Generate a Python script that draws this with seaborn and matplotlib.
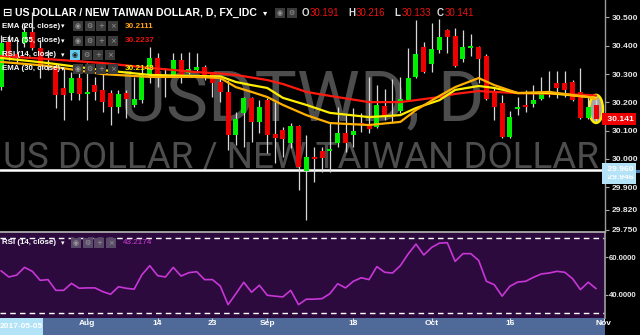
import matplotlib
matplotlib.use("Agg")
import matplotlib.pyplot as plt
import seaborn as sns
import numpy as np
import pandas as pd
from matplotlib.patches import Ellipse, Rectangle

# ---------------- data ----------------
start_date = "2017-07-17"
open_ = [30.254, 30.413, 30.371, 30.410, 30.449, 30.392, 30.343, 30.322, 30.251, 30.233,
         30.286, 30.230, 30.261, 30.244, 30.233, 30.184, 30.233, 30.191, 30.208, 30.297,
         30.357, 30.293, 30.297, 30.350, 30.304, 30.314, 30.325, 30.304, 30.272, 30.237,
         30.085, 30.163, 30.216, 30.131, 30.208, 30.088, 30.102, 30.057, 30.117, 29.958,
         30.007, 30.028, 30.028, 30.057, 30.092, 30.085, 30.124, 30.124, 30.113, 30.187,
         30.155, 30.170, 30.208, 30.290, 30.396, 30.336, 30.385, 30.456, 30.435, 30.353,
         30.392, 30.396, 30.364, 30.240, 30.198, 30.078, 30.177, 30.187, 30.194, 30.212,
         30.233, 30.269, 30.269, 30.272, 30.237, 30.145, 30.191]
high = [30.438, 30.438, 30.420, 30.481, 30.519, 30.420, 30.385, 30.339, 30.322, 30.307,
        30.307, 30.339, 30.290, 30.314, 30.244, 30.244, 30.244, 30.290, 30.325, 30.396,
        30.375, 30.322, 30.375, 30.375, 30.378, 30.375, 30.332, 30.307, 30.290, 30.279,
        30.166, 30.219, 30.219, 30.208, 30.216, 30.201, 30.113, 30.127, 30.120, 30.085,
        30.042, 30.042, 30.131, 30.184, 30.155, 30.180, 30.163, 30.290, 30.261, 30.247,
        30.283, 30.290, 30.392, 30.491, 30.413, 30.481, 30.495, 30.458, 30.463, 30.456,
        30.442, 30.398, 30.371, 30.251, 30.226, 30.170, 30.219, 30.244, 30.261, 30.290,
        30.311, 30.311, 30.311, 30.279, 30.322, 30.219, 30.216]
low = [30.244, 30.350, 30.339, 30.396, 30.385, 30.286, 30.314, 30.180, 30.138, 30.208,
       30.208, 30.138, 30.208, 30.166, 30.120, 30.163, 30.145, 30.184, 30.198, 30.269,
       30.254, 30.219, 30.290, 30.269, 30.300, 30.307, 30.279, 30.219, 30.201, 30.032,
       30.049, 30.042, 30.060, 30.092, 30.021, 29.986, 30.007, 30.039, 29.890, 29.784,
       29.919, 29.954, 29.954, 30.042, 30.025, 30.042, 30.095, 30.092, 30.110, 30.138,
       30.127, 30.163, 30.205, 30.286, 30.304, 30.307, 30.375, 30.375, 30.325, 30.343,
       30.364, 30.269, 30.208, 30.138, 30.074, 30.074, 30.155, 30.166, 30.184, 30.208,
       30.219, 30.216, 30.219, 30.205, 30.141, 30.141, 30.133]
close = [30.410, 30.367, 30.360, 30.449, 30.392, 30.332, 30.336, 30.226, 30.226, 30.286,
         30.230, 30.237, 30.237, 30.201, 30.184, 30.230, 30.212, 30.212, 30.297, 30.357,
         30.297, 30.286, 30.350, 30.290, 30.318, 30.325, 30.293, 30.269, 30.237, 30.085,
         30.141, 30.216, 30.131, 30.184, 30.085, 30.074, 30.071, 30.117, 29.972, 30.007,
         30.000, 30.004, 30.035, 30.092, 30.057, 30.099, 30.120, 30.106, 30.191, 30.152,
         30.148, 30.212, 30.286, 30.371, 30.307, 30.389, 30.431, 30.431, 30.329, 30.396,
         30.396, 30.353, 30.212, 30.184, 30.078, 30.148, 30.180, 30.184, 30.208, 30.230,
         30.240, 30.251, 30.244, 30.208, 30.145, 30.184, 30.141]

ema_at = [0, 6, 13, 19, 25, 28, 30, 32, 34, 36, 39, 42, 47, 51, 53, 56, 58, 61, 63, 66, 70, 75, 76]
ema20 = [30.343, 30.329, 30.300, 30.290, 30.290, 30.286, 30.254, 30.237, 30.219, 30.191, 30.155, 30.127,
         30.120, 30.131, 30.173, 30.223, 30.254, 30.286, 30.261, 30.233, 30.237, 30.219, 30.211]
ema30 = [30.357, 30.339, 30.314, 30.297, 30.293, 30.292, 30.272, 30.261, 30.251, 30.216, 30.191, 30.163,
         30.148, 30.155, 30.180, 30.208, 30.244, 30.258, 30.251, 30.233, 30.233, 30.219, 30.215]
ema55 = [30.364, 30.353, 30.339, 30.322, 30.307, 30.302, 30.297, 30.288, 30.279, 30.265, 30.237, 30.223,
         30.201, 30.201, 30.208, 30.219, 30.230, 30.240, 30.237, 30.233, 30.231, 30.226, 30.224]

rsi = [52.7, 49.4, 50.4, 54.5, 52.4, 47.6, 48.0, 42.3, 42.3, 46.0, 43.4, 43.6, 43.6, 41.6, 40.2, 44.2,
       43.4, 42.9, 50.6, 55.4, 50.1, 49.4, 54.5, 49.9, 51.7, 52.2, 48.0, 48.0, 44.6, 34.7, 40.5, 46.6,
       41.3, 45.0, 39.7, 39.2, 38.8, 42.3, 34.7, 37.6, 37.6, 37.9, 40.5, 45.8, 43.6, 47.1, 49.0, 48.0,
       54.9, 51.9, 51.5, 55.4, 61.6, 66.9, 61.1, 65.1, 67.4, 67.6, 57.7, 61.8, 61.8, 58.2, 47.1, 45.3,
       39.2, 44.5, 46.7, 47.1, 49.2, 51.0, 51.5, 52.4, 51.9, 48.5, 42.7, 46.6, 43.2]

tick_dates = ["2017-08-01", "2017-08-14", "2017-08-23", "2017-09-01",
              "2017-09-18", "2017-10-02", "2017-10-16", "2017-11-01"]
tick_labels = ["Aug", "14", "23", "Sep", "18", "Oct", "16", "Nov"]
price_ticks = [30.5, 30.4, 30.3, 30.2, 30.1, 30.0, 29.9, 29.82, 29.75]
price_tick_labels = ["30.500", "30.400", "30.300", "30.200", "30.100", "30.000", "29.900", "29.820", "29.750"]
rsi_ticks = [60, 40]
rsi_tick_labels = ["60.0000", "40.0000"]
rsi_bands = [70, 30]
last_price = 30.141
hline_price = 29.960
hline_price2 = 29.946
ohlc_last = ["30.191", "30.216", "30.133", "30.141"]
ema_legend = [("EMA (20, close)", "30.2111", "#ffa21a"),
              ("EMA (55, close)", "30.2237", "#e8150f"),
              ("RSI (14, close)", None, None),
              ("EMA (30, close)", "30.2148", "#ffee00")]
rsi_last = "43.2174"
title = "US DOLLAR / NEW TAIWAN DOLLAR, D, FX_IDC"

# ---------------- style ----------------
sns.set_theme(style="dark", rc={"axes.facecolor": "black", "figure.facecolor": "black",
                                "axes.grid": False})
plt.rcParams["font.family"] = ["Liberation Sans", "DejaVu Sans"]

W, H = 640, 335
fig = plt.figure(figsize=(W / 100, H / 100), dpi=100, facecolor="black")


def fx(px):
    return px / W


def fy(py):
    return 1 - py / H


ax = fig.add_axes([0, fy(232), fx(605), 232 / H])
ax_rsi = fig.add_axes([0, fy(318), fx(605), 86 / H])
ax_x = fig.add_axes([0, 0, fx(605), 17 / H])
ax.set_zorder(0)
ax_rsi.set_zorder(2)
ax_x.set_zorder(2)

XL = (-0.128, 77.14)
GREEN, RED = "#00ee00", "#ee0000"

# ---------------- main price panel ----------------
o = np.array(open_); h = np.array(high); l = np.array(low); c = np.array(close)
idx = np.arange(len(c))
cols = np.where(c >= o, GREEN, RED)
body_lo = np.minimum(o, c)
body_h = np.maximum(np.abs(c - o), 0.006)

ax.text(302 / 605, 1 - 121 / 232, "USDTWD, D", transform=ax.transAxes, ha="center", va="baseline",
        fontsize=51, color="#4d4d4d", family=["Roboto", "DejaVu Sans"], zorder=0.2)
ax.text(301 / 605, 1 - 167 / 232, "US DOLLAR / NEW TAIWAN DOLLAR", transform=ax.transAxes,
        ha="center", va="baseline", fontsize=26.5, color="#4d4d4d", family=["Roboto", "DejaVu Sans"],
        zorder=0.2)

ax.axhline(hline_price, color="white", lw=1.8, zorder=1)
ax.add_patch(Ellipse((76, 30.177), width=1.75, height=0.099, facecolor=(0.82, 0.82, 0.82, 0.8),
                     edgecolor="#ffee00", lw=1.8, zorder=1.5))
ax.vlines(idx, l, h, color="#d8d8d8", lw=0.9, zorder=2)
ax.bar(idx, body_h, bottom=body_lo, width=0.64, color=cols, linewidth=0, zorder=3)

sns.lineplot(x=ema_at, y=ema55, ax=ax, color="#ff1a10", lw=1.6, zorder=4)
sns.lineplot(x=ema_at, y=ema30, ax=ax, color="#ffee00", lw=1.6, zorder=4)
sns.lineplot(x=ema_at, y=ema20, ax=ax, color="#ffb000", lw=1.6, zorder=4)

ax.set_xlim(*XL)
ax.set_ylim(29.742, 30.5618)
ax.yaxis.tick_right()
ax.set_yticks(price_ticks, price_tick_labels)
ax.tick_params(axis="y", right=True, left=False, direction="out", length=3, width=0.8,
               color="#aaaaaa", labelcolor="#e6e6e6", labelsize=6.1, pad=2)
for t in ax.get_yticklabels():
    t.set_fontweight("bold")
ax.tick_params(axis="x", bottom=False, labelbottom=False)
for s in ["top", "left", "bottom"]:
    ax.spines[s].set_visible(False)
ax.spines["right"].set_color("#9a9a9a")
ax.spines["right"].set_linewidth(1)
ax.set_xlabel(""); ax.set_ylabel("")

ytr = ax.get_yaxis_transform()
ax.text(1.0, last_price, " " + f"{last_price:.3f}", transform=ytr, ha="left", va="center", color="white",
        fontsize=6.1, fontweight="bold", clip_on=False, zorder=10,
        bbox=dict(boxstyle="square,pad=0.3", fc="#ee0000", ec="none"))
ax.text(1.0, hline_price + 0.004, " " + f"{hline_price:.3f}", transform=ytr, ha="left", va="center",
        color="white", fontsize=6.1, fontweight="bold", clip_on=False, zorder=10,
        bbox=dict(boxstyle="square,pad=0.3", fc="#b4e2f6", ec="none"))
ax.text(1.0, hline_price2 - 0.012, " " + f"{hline_price2:.3f}", transform=ytr, ha="left", va="center",
        color="white", fontsize=6.1, fontweight="bold", clip_on=False, zorder=9,
        bbox=dict(boxstyle="square,pad=0.3", fc="#b4e2f6", ec="none"))

# ---------------- RSI panel ----------------
ax_rsi.set_facecolor("#2c0a3e")
sns.lineplot(x=idx, y=rsi, ax=ax_rsi, color="#c836d6", lw=1.2, zorder=3)
for b in rsi_bands:
    ax_rsi.axhline(b, color="white", lw=1, ls=(0, (4, 3)), zorder=2)
ax_rsi.set_xlim(*XL)
ax_rsi.set_ylim(27.6, 73.3)
ax_rsi.yaxis.tick_right()
ax_rsi.set_yticks(rsi_ticks, rsi_tick_labels)
ax_rsi.tick_params(axis="y", right=True, left=False, direction="out", length=2, width=0.8,
                   color="#aaaaaa", labelcolor="#e6e6e6", labelsize=5.6, pad=1)
for t in ax_rsi.get_yticklabels():
    t.set_fontweight("bold")
ax_rsi.tick_params(axis="x", bottom=False, labelbottom=False)
for s in ["left", "bottom"]:
    ax_rsi.spines[s].set_visible(False)
ax_rsi.spines["top"].set_color("#b0b0b0")
ax_rsi.spines["right"].set_color("#9a9a9a")
ax_rsi.set_xlabel(""); ax_rsi.set_ylabel("")

# ---------------- time axis strip ----------------
dates = pd.bdate_range(start_date, periods=len(c) + 1)
tick_pos = [dates.get_loc(pd.Timestamp(d)) for d in tick_dates]
ax_x.set_facecolor("#4f6a99")
ax_x.set_xlim(*XL)
ax_x.set_ylim(0, 1)
ax_x.set_yticks([])
ax_x.set_xticks(tick_pos, tick_labels)
ax_x.tick_params(axis="x", top=True, bottom=False, labeltop=False, labelbottom=True,
                 direction="in", length=2.5, width=0.8, color="#dddddd",
                 labelcolor="white", labelsize=6, pad=-10.5)
for t in ax_x.get_xticklabels():
    t.set_fontweight("bold")
for s in ax_x.spines.values():
    s.set_visible(False)

# cover below main panel on the right price scale
fig.patches.append(Rectangle((fx(605.5), fy(318)), fx(640) - fx(605.5), (318 - 233) / H,
                             transform=fig.transFigure, facecolor="black", edgecolor="none", zorder=1))
fig.patches.append(Rectangle((fx(636), fy(173)), fx(4), 3 / H, transform=fig.transFigure,
                             facecolor="#4a78b5", edgecolor="none", zorder=12))
fig.patches.append(Rectangle((0, 0), fx(43), 17 / H, transform=fig.transFigure,
                             facecolor="#b3e3f7", edgecolor="none", zorder=5))
fig.text(fx(21.5), fy(326.5), "2017-05-05", color="white", fontsize=6, fontweight="bold",
         ha="center", va="center", zorder=6)

# ---------------- legends ----------------
def icons(x0, yc, n, first_color="#3b3b3b", other="#3b3b3b", glyphs=("◉", "⚙", "+", "×")):
    for k in range(n):
        x = x0 + k * 11.5
        fc = first_color if k == 0 else other
        fig.patches.append(Rectangle((fx(x), fy(yc + 5)), 10 / W, 10 / H, transform=fig.transFigure,
                                     facecolor=fc, edgecolor="none", zorder=20))
        fig.text(fx(x + 5), fy(yc), glyphs[k], ha="center", va="center", fontsize=5,
                 color="#1d1d1d" if (k == 0 and first_color == "#66ccee") else "#9a9a9a", zorder=21,
                 family=["DejaVu Sans"])


kw = dict(color="white", fontweight="bold", va="center", ha="left", zorder=22)
fig.text(fx(2), fy(13), "⊟", fontsize=8, family=["DejaVu Sans"], **kw)
fig.text(fx(15), fy(13), title, fontsize=7.6, **kw)
fig.text(fx(263), fy(13), "▾", fontsize=6, family=["DejaVu Sans"], **kw)
icons(275, 13, 2)
ox = [302, 348, 394, 437]
for letter, val, xx in zip("OHLC", ohlc_last, ox):
    fig.text(fx(xx), fy(13), letter, fontsize=7, color="#dddddd", fontweight="bold", va="center", zorder=22)
    fig.text(fx(xx + 7.5), fy(13), val, fontsize=7, color="#ee1111", va="center", zorder=22)

rows_y = [26, 41, 55, 69]
for (name, val, colr), yy in zip(ema_legend, rows_y):
    fig.text(fx(2), fy(yy), name, fontsize=5.7, **kw)
    fig.text(fx(61), fy(yy), "▾", fontsize=5, family=["DejaVu Sans"], **kw)
    if val is None:
        icons(70, yy, 4, first_color="#66ccee")
    else:
        icons(73, yy, 4)
        fig.text(fx(125), fy(yy), val, fontsize=5.9, color=colr, fontweight="bold", va="center", zorder=22)

fig.text(fx(2), fy(243), "RSI (14, close)", fontsize=5.7, **kw)
fig.text(fx(61), fy(243), "▾", fontsize=5, family=["DejaVu Sans"], **kw)
icons(71, 243, 4, first_color="#5a4a6a", other="#5a4a6a")
fig.text(fx(123), fy(243), rsi_last, fontsize=5.9, color="#d23cd8", va="center", zorder=22)

fig.savefig("out.png", dpi=100, facecolor="black")
